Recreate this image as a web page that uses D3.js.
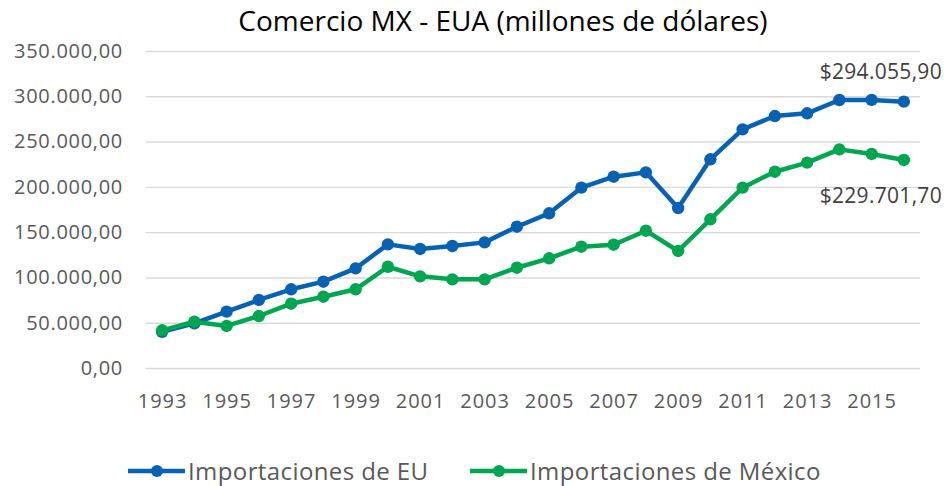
<!DOCTYPE html>
<html>
<head>
<meta charset="utf-8">
<script src="https://cdn.jsdelivr.net/npm/d3@7"></script>
<style>
  body { margin: 0; background: #fff; }
  svg { display: block; font-family: "Open Sans", sans-serif; }
</style>
</head>
<body>
<div id="chart"></div>
<script>
// years on the category axis
var years = ["1993", "1994", "1995", "1996", "1997", "1998", "1999", "2000", "2001", "2002", "2003", "2004",
    "2005", "2006", "2007", "2008", "2009", "2010", "2011", "2012", "2013", "2014", "2015", "2016"];

// Importaciones de EU (millones de dolares)
var importsEU = [39900, 49300, 62200, 75100, 86900, 95300, 110000, 136500, 131400, 134700, 138700, 156000,
    170800, 199100, 211200, 216000, 176600, 230400, 263500, 278200, 281200, 295900, 296000, 294055.9];

// Importaciones de Mexico
var importsMX = [41600, 51100, 46400, 57400, 71000, 78700, 86900, 111800, 101200, 97900, 97900, 110700,
    121100, 133900, 136100, 151600, 129200, 164200, 199100, 216700, 226700, 241400, 236300, 229701.7];

var seriesNames = ["Importaciones de EU", "Importaciones de México"];
var yTicks = [0, 50000, 100000, 150000, 200000, 250000, 300000, 350000];
var xTickYears = ["1993", "1995", "1997", "1999", "2001", "2003", "2005", "2007", "2009", "2011", "2013", "2015"];

var w = 944, h = 486;
var colors = ["#0862b3", "#00a650"];
var textColor = "#595959";

var locale = d3.formatLocale({ decimal: ",", thousands: ".", grouping: [3], currency: ["$", ""] });
var fmtTick = locale.format(",.2f");
var fmtLabel = locale.format("$,.2f");

var svg = d3.select("#chart").append("svg")
    .attr("width", w)
    .attr("height", h);

var x = d3.scalePoint()
    .domain(years)
    .range([146, 920])
    .padding(0.5);

var y = d3.scaleLinear()
    .domain([0, 350000])
    .range([368, 51]);

// gridlines
svg.append("g")
    .attr("transform", "translate(146,0)")
    .call(d3.axisLeft(y).tickValues(yTicks).tickSize(-774).tickFormat(""))
    .call(g => g.select(".domain").remove())
    .call(g => g.selectAll("line").attr("stroke", "#d9d9d9").attr("stroke-width", 1.4));

// y axis labels
svg.append("g")
    .attr("transform", "translate(123,0)")
    .call(d3.axisLeft(y).tickValues(yTicks).tickSize(0).tickPadding(0).tickFormat(fmtTick))
    .call(g => g.select(".domain").remove())
    .call(g => g.selectAll("text")
        .attr("fill", textColor)
        .attr("font-family", "Open Sans, sans-serif")
        .attr("font-size", "20px")
        .attr("letter-spacing", "0.7px"));

// x axis labels
svg.append("g")
    .attr("transform", "translate(0,394)")
    .call(d3.axisBottom(x).tickValues(xTickYears).tickSize(0).tickPadding(0))
    .call(g => g.select(".domain").remove())
    .call(g => g.selectAll("text")
        .attr("fill", textColor)
        .attr("font-family", "Open Sans, sans-serif")
        .attr("font-size", "20px")
        .attr("letter-spacing", "1px"));

// title
svg.append("text")
    .attr("x", 503)
    .attr("y", 31)
    .attr("text-anchor", "middle")
    .attr("font-size", "28px")
    .attr("fill", "#000")
    .text("Comercio MX - EUA (millones de dólares)");

var allSeries = [importsEU, importsMX];

var line = d3.line()
    .x((d, i) => x(years[i]))
    .y(d => y(d));

allSeries.forEach(function(vals, k) {
    var g = svg.append("g");
    g.append("path")
        .datum(vals)
        .attr("d", line)
        .attr("fill", "none")
        .attr("stroke", colors[k])
        .attr("stroke-width", 4.5)
        .attr("stroke-linejoin", "round");
    g.selectAll("circle")
        .data(vals)
        .enter().append("circle")
        .attr("cx", (d, i) => x(years[i]))
        .attr("cy", d => y(d))
        .attr("r", 6.2)
        .attr("fill", colors[k]);
});

// data labels on the last point
var last = years.length - 1;
svg.append("text")
    .attr("x", 942)
    .attr("y", y(importsEU[last]) - 23)
    .attr("text-anchor", "end")
    .attr("font-size", "21px")
    .attr("letter-spacing", "0.3px")
    .attr("fill", "#404040")
    .text(fmtLabel(importsEU[last]));
svg.append("text")
    .attr("x", 942)
    .attr("y", y(importsMX[last]) + 43)
    .attr("text-anchor", "end")
    .attr("font-size", "21px")
    .attr("letter-spacing", "0.3px")
    .attr("fill", "#404040")
    .text(fmtLabel(importsMX[last]));

// legend
var legendX = [128, 470];
var legend = svg.append("g").selectAll("g")
    .data(seriesNames)
    .enter().append("g")
    .attr("transform", (d, i) => "translate(" + legendX[i] + ",471)");
legend.append("line")
    .attr("x1", 0).attr("x2", 57)
    .attr("stroke", (d, i) => colors[i])
    .attr("stroke-width", 4.5);
legend.append("circle")
    .attr("cx", 29).attr("r", 6)
    .attr("fill", (d, i) => colors[i]);
legend.append("text")
    .attr("x", 60)
    .attr("dy", "0.36em")
    .attr("font-size", "24px")
    .attr("letter-spacing", "0.4px")
    .attr("fill", textColor)
    .text(d => d);
</script>
</body>
</html>
